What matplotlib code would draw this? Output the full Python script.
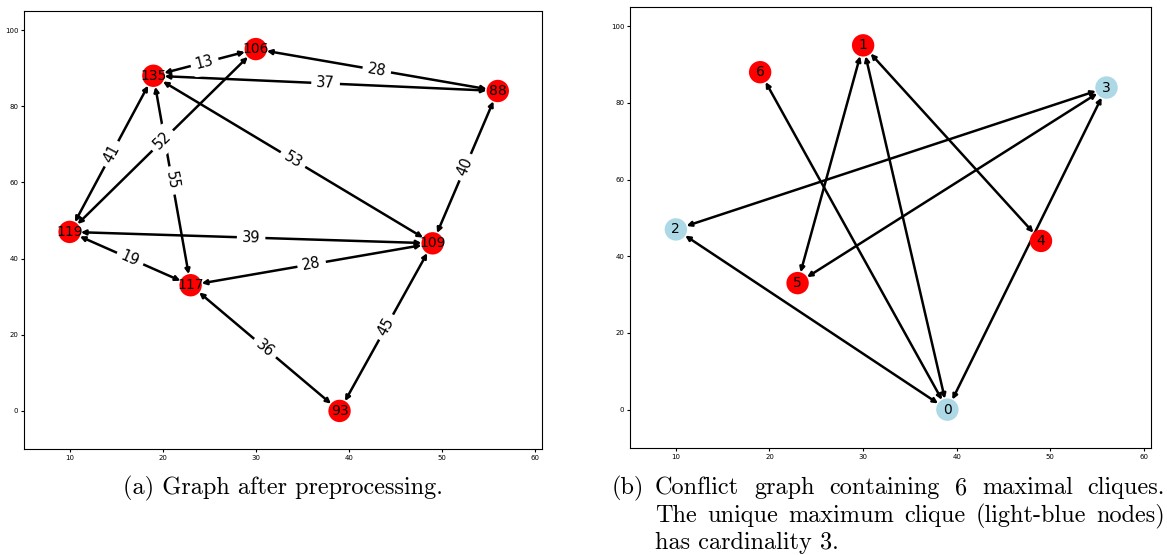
import numpy as np
import matplotlib
matplotlib.use("Agg")
import matplotlib.pyplot as plt
from matplotlib.patches import FancyArrowPatch

# node layout (same coordinates in both panels)
xs = [10, 19, 30, 23, 49, 56, 39]
ys = [47, 88, 95, 33, 44, 84, 0]

# (a) graph after preprocessing
left_names = ["119", "135", "106", "117", "109", "88", "93"]
left_edges = [("135", "106"), ("106", "88"), ("135", "88"), ("135", "119"),
              ("106", "119"), ("135", "117"), ("135", "109"), ("88", "109"),
              ("119", "109"), ("119", "117"), ("117", "109"), ("117", "93"),
              ("109", "93")]
left_weights = [13, 28, 37, 41, 52, 55, 53, 40, 39, 19, 28, 36, 45]

# (b) conflict graph
right_names = ["2", "6", "1", "5", "4", "3", "0"]
right_colors = ["lightblue", "red", "red", "red", "red", "lightblue", "lightblue"]
right_edges = [("6", "0"), ("1", "5"), ("1", "0"), ("1", "4"),
               ("3", "2"), ("3", "5"), ("3", "0"), ("2", "0")]

W, H = 1167, 555
fig = plt.figure(figsize=(W / 100, H / 100), dpi=100)
axL = fig.add_axes([24 / W, 1 - 449 / H, 518 / W, 438 / H])
axR = fig.add_axes([630 / W, 1 - 448 / H, 521 / W, 441 / H])

node_s = 260


def draw_graph(ax, names, colors, edges, weights=None):
    ax.set_xlim(5.1, 60.75)
    ax.set_ylim(-10, 105)
    ax.set_xticks([10, 20, 30, 40, 50, 60])
    ax.set_yticks([0, 20, 40, 60, 80, 100])
    ax.tick_params(labelsize=5, length=2, width=0.8, pad=2)
    pos = {n: (x, y) for n, x, y in zip(names, xs, ys)}
    shrink = np.sqrt(node_s) / 2
    for i, (a, b) in enumerate(edges):
        arr = FancyArrowPatch(pos[a], pos[b], arrowstyle="<|-|>", mutation_scale=7,
                              lw=1.8, color="black", shrinkA=shrink, shrinkB=shrink,
                              zorder=1)
        ax.add_patch(arr)
        if weights is not None:
            p1 = ax.transData.transform(pos[a])
            p2 = ax.transData.transform(pos[b])
            ang = np.degrees(np.arctan2(p2[1] - p1[1], p2[0] - p1[0]))
            if ang > 90:
                ang -= 180
            if ang < -90:
                ang += 180
            mx = (pos[a][0] + pos[b][0]) / 2
            my = (pos[a][1] + pos[b][1]) / 2
            ax.text(mx, my, str(weights[i]), fontsize=10.5, rotation=ang,
                    rotation_mode="anchor", ha="center", va="center", zorder=3,
                    bbox=dict(boxstyle="round", ec="white", fc="white"))
    ax.scatter(xs, ys, s=node_s, c=colors, zorder=2, linewidths=0)
    for n in names:
        ax.text(pos[n][0], pos[n][1], n, fontsize=10, ha="center", va="center", zorder=4)


draw_graph(axL, left_names, ["red"] * 7, left_edges, left_weights)
draw_graph(axR, right_names, right_colors, right_edges)

cap = dict(family="cmr10", fontsize=17.5, va="center")


def justify(words, x0, x1, y):
    r = fig.canvas.get_renderer()
    ts = [fig.text(0, y, w, **cap) for w in words]
    ws = [t.get_window_extent(r).width for t in ts]
    gap = (x1 - x0 - sum(ws)) / (len(ws) - 1)
    x = x0
    for t, w in zip(ts, ws):
        t.set_x(x / W)
        x += w + gap


fig.text(283 / W, 1 - 488 / H, "(a) Graph after preprocessing.", ha="center", **cap)
fig.text(612 / W, 1 - 488 / H, "(b)", ha="left", **cap)
justify("Conflict graph containing 6 maximal cliques.".split(), 655, 1165, 1 - 488 / H)
justify("The unique maximum clique (light-blue nodes)".split(), 655, 1165, 1 - 516 / H)
fig.text(655 / W, 1 - 543 / H, "has cardinality 3.", ha="left", **cap)

fig.savefig("out.png", dpi=100)
